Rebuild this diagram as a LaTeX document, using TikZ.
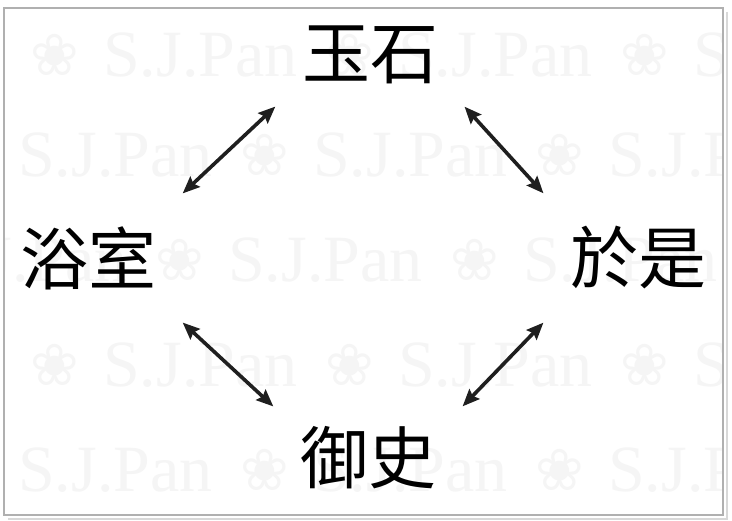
\documentclass[tikz,border=0pt]{standalone}
\usepackage{fontspec}
\setmainfont{Liberation Serif}
\newfontfamily\cjk{Noto Sans CJK TC}
\newfontfamily\sym{DejaVu Sans}
\usetikzlibrary{arrows.meta, positioning}
\definecolor{FRM}{HTML}{B0B0B0}
\definecolor{SHD}{HTML}{D8D8D8}
\definecolor{WMK}{HTML}{F5F5F5}
\tikzset{
  WRD/.style={% Style for the four words
      rectangle,
      minimum width=186pt,
      minimum height=100pt,
      inner sep=0pt,
      font=\cjk\fontsize{68}{68}\selectfont,
      text=black,
  },
  SID/.style={% Style for the words at the sides
      WRD,
      minimum height=126pt
  },
  LNK/.style={% Style for the double arrows
      line width=3.6pt,
      draw=black!88,
      {Stealth[length=17pt,width=14pt,inset=2.5pt]}-{Stealth[length=17pt,width=14pt,inset=2.5pt]},
      shorten <=2pt, shorten >=2pt
  },
  WMK/.style={% Style for the watermark
      text=WMK,
      inner sep=0pt,
      font=\fontsize{66}{66}\selectfont
  }
}

\begin{document}
\begin{tikzpicture}[x=1pt,y=-1pt]
  \useasboundingbox (0,0) rectangle (732,521);
  % frame and its shadow
  \draw[SHD, line width=2pt] (727,12) -- (727,519) -- (8,519);
  \fill[white] (4,8) rectangle (723,515);
  \begin{scope}
    \clip (4,8) rectangle (723,515);
    \foreach \y/\s in {55/0, 155/210, 260/125, 365/0, 470/210} {%
      \foreach \k in {-1,0,1,2} {%
        \node[WMK, font=\sym\fontsize{58}{58}\selectfont] (fl) at ({\s+55+295*\k},\y) {❀};
        \node[WMK, anchor=west] (sj) at ({\s+103+295*\k},\y) {S.J.Pan};
      }
    }
  \end{scope}
  \draw[FRM, line width=1.5pt] (4,8) rectangle (723,515);
  % the words
  \node[WRD] (jade) at (370,55) {玉石};
  \node[SID] (bath) at (88,258) {浴室};
  \node[SID] (thus) at (638,258) {於是};
  \node[WRD] (censor) at (368,458) {御史};
  % the links
  \draw[LNK] (jade.south west) -- (bath.north east);
  \draw[LNK] (jade.south east) -- (thus.north west);
  \draw[LNK] (bath.south east) -- (censor.north west);
  \draw[LNK] (censor.north east) -- (thus.south west);
\end{tikzpicture}
\end{document}
